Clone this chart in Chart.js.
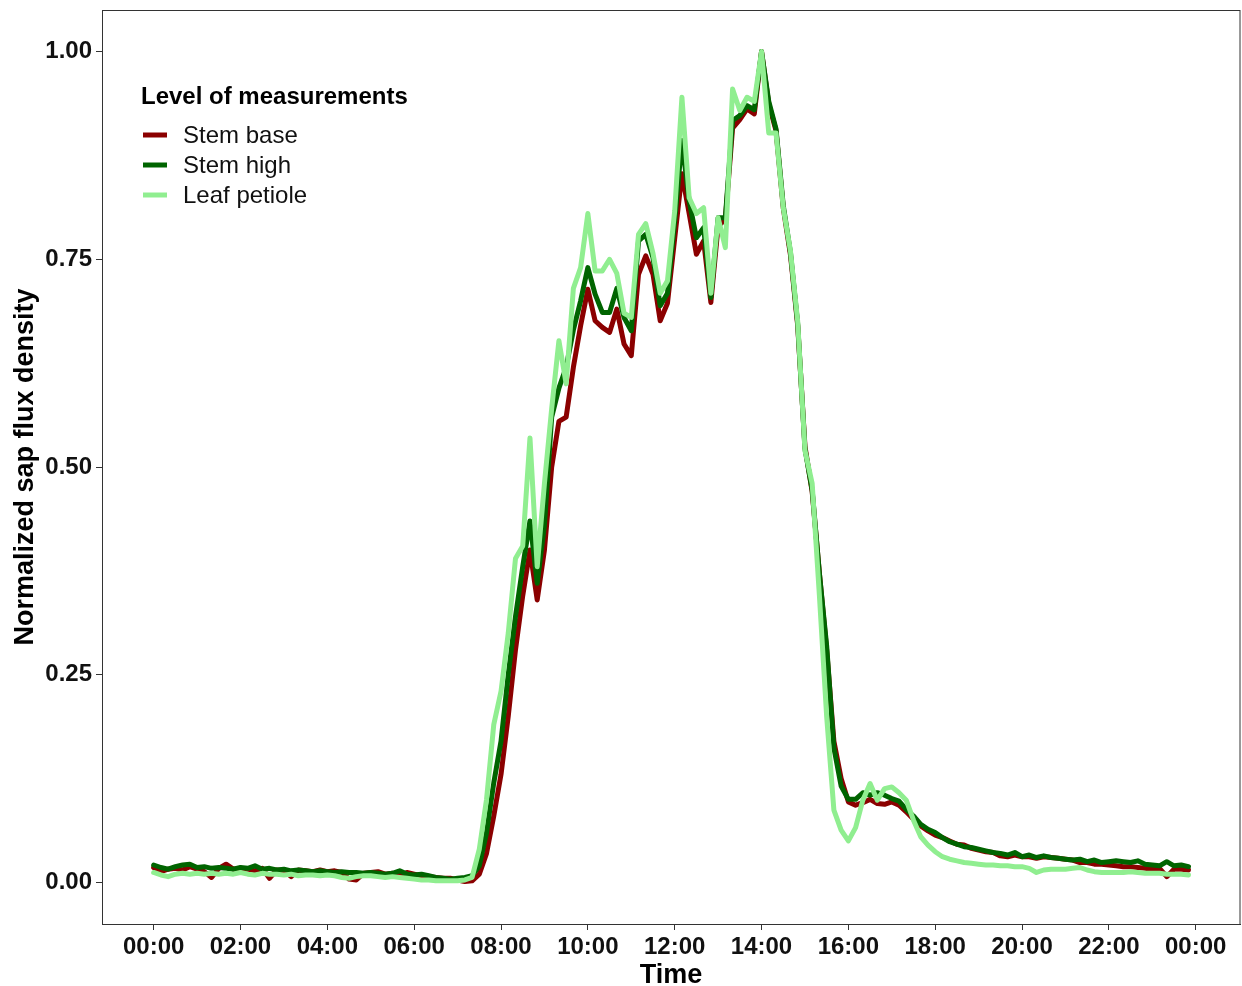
<!DOCTYPE html>
<html>
<head>
<meta charset="utf-8">
<title>Normalized sap flux density</title>
<script src="https://cdn.jsdelivr.net/npm/chart.js@4.4.1/dist/chart.umd.min.js"></script>
<style>
  body { margin: 0; background: #fff; }
  #chart-box { width: 1242px; height: 986px; }
</style>
</head>
<body>
<div id="chart-box"><canvas id="sap-chart" width="1242" height="986"></canvas></div>
<script>
// one reading every 10 minutes, 00:00 .. 23:50 (one row per hour)
const stepMinutes = 10;

const stemBase = [
  0.018, 0.013, 0.016, 0.017, 0.015, 0.019,
  0.016, 0.013, 0.006, 0.017, 0.022, 0.016,
  0.017, 0.016, 0.014, 0.017, 0.005, 0.015,
  0.014, 0.007, 0.015, 0.014, 0.013, 0.015,
  0.013, 0.014, 0.012, 0.004, 0.003, 0.011,
  0.012, 0.013, 0.010, 0.011, 0.008, 0.012,
  0.010, 0.008, 0.007, 0.006, 0.005, 0.005,
  0.003, 0.001, 0.002, 0.010, 0.035, 0.080,
  0.130, 0.200, 0.280, 0.345, 0.400, 0.340,
  0.400, 0.500, 0.555, 0.560, 0.620, 0.670,
  0.714, 0.676, 0.668, 0.662, 0.690, 0.648,
  0.634, 0.732, 0.754, 0.732, 0.676, 0.697,
  0.775, 0.853, 0.805, 0.756, 0.772, 0.698,
  0.790, 0.798, 0.908, 0.918, 0.931, 0.925,
  1.000, 0.937, 0.905, 0.812, 0.755, 0.670,
  0.525, 0.470, 0.372, 0.280, 0.170, 0.125,
  0.097, 0.093, 0.096, 0.100, 0.095, 0.094,
  0.097, 0.093, 0.085, 0.076, 0.068, 0.062,
  0.057, 0.054, 0.050, 0.046, 0.045, 0.041,
  0.039, 0.037, 0.036, 0.032, 0.031, 0.033,
  0.031, 0.031, 0.029, 0.031, 0.030, 0.029,
  0.028, 0.027, 0.024, 0.024, 0.022, 0.022,
  0.021, 0.020, 0.019, 0.019, 0.018, 0.017,
  0.016, 0.017, 0.007, 0.016, 0.016, 0.015
];

const stemHigh = [
  0.021, 0.018, 0.016, 0.019, 0.021, 0.022,
  0.018, 0.019, 0.017, 0.018, 0.017, 0.016,
  0.018, 0.017, 0.020, 0.016, 0.017, 0.015,
  0.016, 0.014, 0.015, 0.014, 0.013, 0.014,
  0.013, 0.012, 0.013, 0.012, 0.012, 0.011,
  0.012, 0.011, 0.010, 0.011, 0.014, 0.010,
  0.009, 0.010, 0.008, 0.006, 0.005, 0.004,
  0.005, 0.006, 0.008, 0.020, 0.060, 0.120,
  0.170, 0.250, 0.320, 0.380, 0.435, 0.360,
  0.430, 0.560, 0.595, 0.620, 0.665, 0.700,
  0.740, 0.708, 0.686, 0.686, 0.715, 0.680,
  0.664, 0.772, 0.780, 0.752, 0.694, 0.709,
  0.796, 0.893, 0.820, 0.776, 0.788, 0.704,
  0.800, 0.800, 0.917, 0.923, 0.935, 0.930,
  1.000, 0.940, 0.907, 0.815, 0.758, 0.672,
  0.522, 0.472, 0.372, 0.285, 0.162, 0.116,
  0.100, 0.100, 0.108, 0.105, 0.108, 0.105,
  0.101, 0.098, 0.088, 0.080, 0.070, 0.064,
  0.060, 0.054, 0.049, 0.046, 0.043, 0.042,
  0.040, 0.038, 0.036, 0.035, 0.033, 0.036,
  0.031, 0.033, 0.030, 0.032, 0.030, 0.029,
  0.028, 0.027, 0.028, 0.025, 0.027, 0.024,
  0.025, 0.026, 0.025, 0.024, 0.026, 0.022,
  0.021, 0.020, 0.025, 0.020, 0.021, 0.019
];

const leafPetiole = [
  0.012, 0.009, 0.007, 0.010, 0.011, 0.010,
  0.011, 0.010, 0.011, 0.010, 0.011, 0.010,
  0.012, 0.010, 0.009, 0.011, 0.010, 0.010,
  0.009, 0.010, 0.008, 0.009, 0.009, 0.008,
  0.009, 0.008, 0.006, 0.005, 0.007, 0.008,
  0.008, 0.007, 0.006, 0.007, 0.006, 0.005,
  0.004, 0.003, 0.003, 0.002, 0.002, 0.002,
  0.002, 0.003, 0.006, 0.040, 0.100, 0.190,
  0.230, 0.300, 0.390, 0.405, 0.535, 0.380,
  0.480, 0.570, 0.652, 0.600, 0.715, 0.740,
  0.805, 0.736, 0.736, 0.750, 0.733, 0.685,
  0.680, 0.780, 0.793, 0.757, 0.709, 0.724,
  0.808, 0.945, 0.824, 0.805, 0.812, 0.709,
  0.800, 0.764, 0.955, 0.929, 0.945, 0.940,
  1.000, 0.902, 0.902, 0.812, 0.760, 0.675,
  0.520, 0.480, 0.345, 0.200, 0.087, 0.063,
  0.050, 0.066, 0.099, 0.119, 0.099, 0.113,
  0.115, 0.108, 0.099, 0.075, 0.055, 0.045,
  0.037, 0.031, 0.028, 0.026, 0.024, 0.023,
  0.022, 0.021, 0.021, 0.020, 0.020, 0.019,
  0.019, 0.017, 0.012, 0.015, 0.016, 0.016,
  0.016, 0.017, 0.018, 0.015, 0.013, 0.012,
  0.012, 0.012, 0.012, 0.013, 0.012, 0.011,
  0.011, 0.011, 0.010, 0.010, 0.010, 0.009
];

const seriesNames = ['Stem base', 'Stem high', 'Leaf petiole'];
const seriesColors = ['#8b0000', '#006400', '#90ee90'];
const legendTitle = 'Level of measurements';

const xTickHours = [0, 2, 4, 6, 8, 10, 12, 14, 16, 18, 20, 22, 24];
const xTickLabels = ['00:00', '02:00', '04:00', '06:00', '08:00', '10:00', '12:00',
                     '14:00', '16:00', '18:00', '20:00', '22:00', '00:00'];
const yTicks = [0, 0.25, 0.5, 0.75, 1];
const yTickLabels = ['0.00', '0.25', '0.50', '0.75', '1.00'];

const FONT = "'Liberation Sans', Arial, Helvetica, sans-serif";
Chart.defaults.font.family = FONT;
Chart.defaults.color = '#000';

function toPoints(values){
  return values.map((v, i) => ({ x: i * stepMinutes / 60, y: v }));
}

const allSeries = [stemBase, stemHigh, leafPetiole];
const datasets = allSeries.map((vals, k) => ({
  label: seriesNames[k],
  data: toPoints(vals),
  borderColor: seriesColors[k],
  backgroundColor: seriesColors[k],
  borderWidth: 5,
  pointRadius: 0,
  tension: 0,
  borderJoinStyle: 'round',
  borderCapStyle: 'round',
  order: 3 - k
}));

// box round the panel + legend inside the panel (ggplot style)
const panelAndLegend = {
  id: 'panelAndLegend',
  afterDraw(chart){
    const {ctx, chartArea:{left, right, top, bottom}} = chart;
    ctx.save();
    ctx.strokeStyle = '#333';
    ctx.lineWidth = 1;
    ctx.strokeRect(left + 0.5, top + 0.5, right - left - 0.5, bottom - top);

    ctx.fillStyle = '#000';
    ctx.textBaseline = 'middle';
    ctx.textAlign = 'left';
    ctx.font = 'bold 24px ' + FONT;
    ctx.fillText(legendTitle, 141, 97);

    ctx.font = '24px ' + FONT;
    chart.data.datasets.forEach((ds, i) => {
      const y = 135 + i * 30;
      ctx.beginPath();
      ctx.strokeStyle = ds.borderColor;
      ctx.lineWidth = 5;
      ctx.moveTo(143, y);
      ctx.lineTo(167, y);
      ctx.stroke();
      ctx.fillStyle = '#111';
      ctx.fillText(ds.label, 183, y + 1);
    });
    ctx.restore();
  }
};

const config = {
  type: 'line',
  data: { datasets },
  options: {
    responsive: false,
    animation: false,
    devicePixelRatio: 1,
    layout: { padding: { top: 10, right: 2, left: 0, bottom: 0 } },
    plugins: {
      legend: { display: false },
      tooltip: { enabled: false }
    },
    scales: {
      x: {
        type: 'linear',
        min: -1.19,
        max: 25.02,
        afterBuildTicks: (scale) => { scale.ticks = xTickHours.map(v => ({ value: v })); },
        afterFit: (scale) => {
          scale.height = 62;
          scale.paddingLeft = 0;
          scale.paddingRight = 0;
        },
        ticks: {
          autoSkip: false,
          maxRotation: 0,
          padding: 3,
          color: '#111',
          font: { size: 24, weight: 'bold' },
          callback: (v, i) => xTickLabels[i]
        },
        grid: { drawOnChartArea: false, drawTicks: true, tickLength: 6, color: '#333' },
        border: { display: true, color: '#333', width: 1 },
        title: {
          display: true,
          text: 'Time',
          color: '#000',
          font: { size: 27, weight: 'bold', lineHeight: 1 },
          padding: { top: 0, bottom: -3 }
        }
      },
      y: {
        type: 'linear',
        min: -0.05,
        max: 1.05,
        afterBuildTicks: (scale) => { scale.ticks = yTicks.map(v => ({ value: v })); },
        afterFit: (scale) => {
          scale.width = 102;
          scale.paddingTop = 0;
          scale.paddingBottom = 0;
        },
        ticks: {
          padding: 4,
          color: '#111',
          font: { size: 24, weight: 'bold' },
          callback: (v, i) => yTickLabels[i]
        },
        grid: { drawOnChartArea: false, drawTicks: true, tickLength: 6, color: '#333' },
        border: { display: true, color: '#333', width: 1 },
        title: {
          display: true,
          text: 'Normalized sap flux density',
          color: '#000',
          font: { size: 27, weight: 'bold', lineHeight: 1 },
          padding: { top: 12, bottom: 0 }
        }
      }
    }
  },
  plugins: [panelAndLegend]
};

const myChart = new Chart(document.getElementById('sap-chart'), config);
</script>
</body>
</html>
